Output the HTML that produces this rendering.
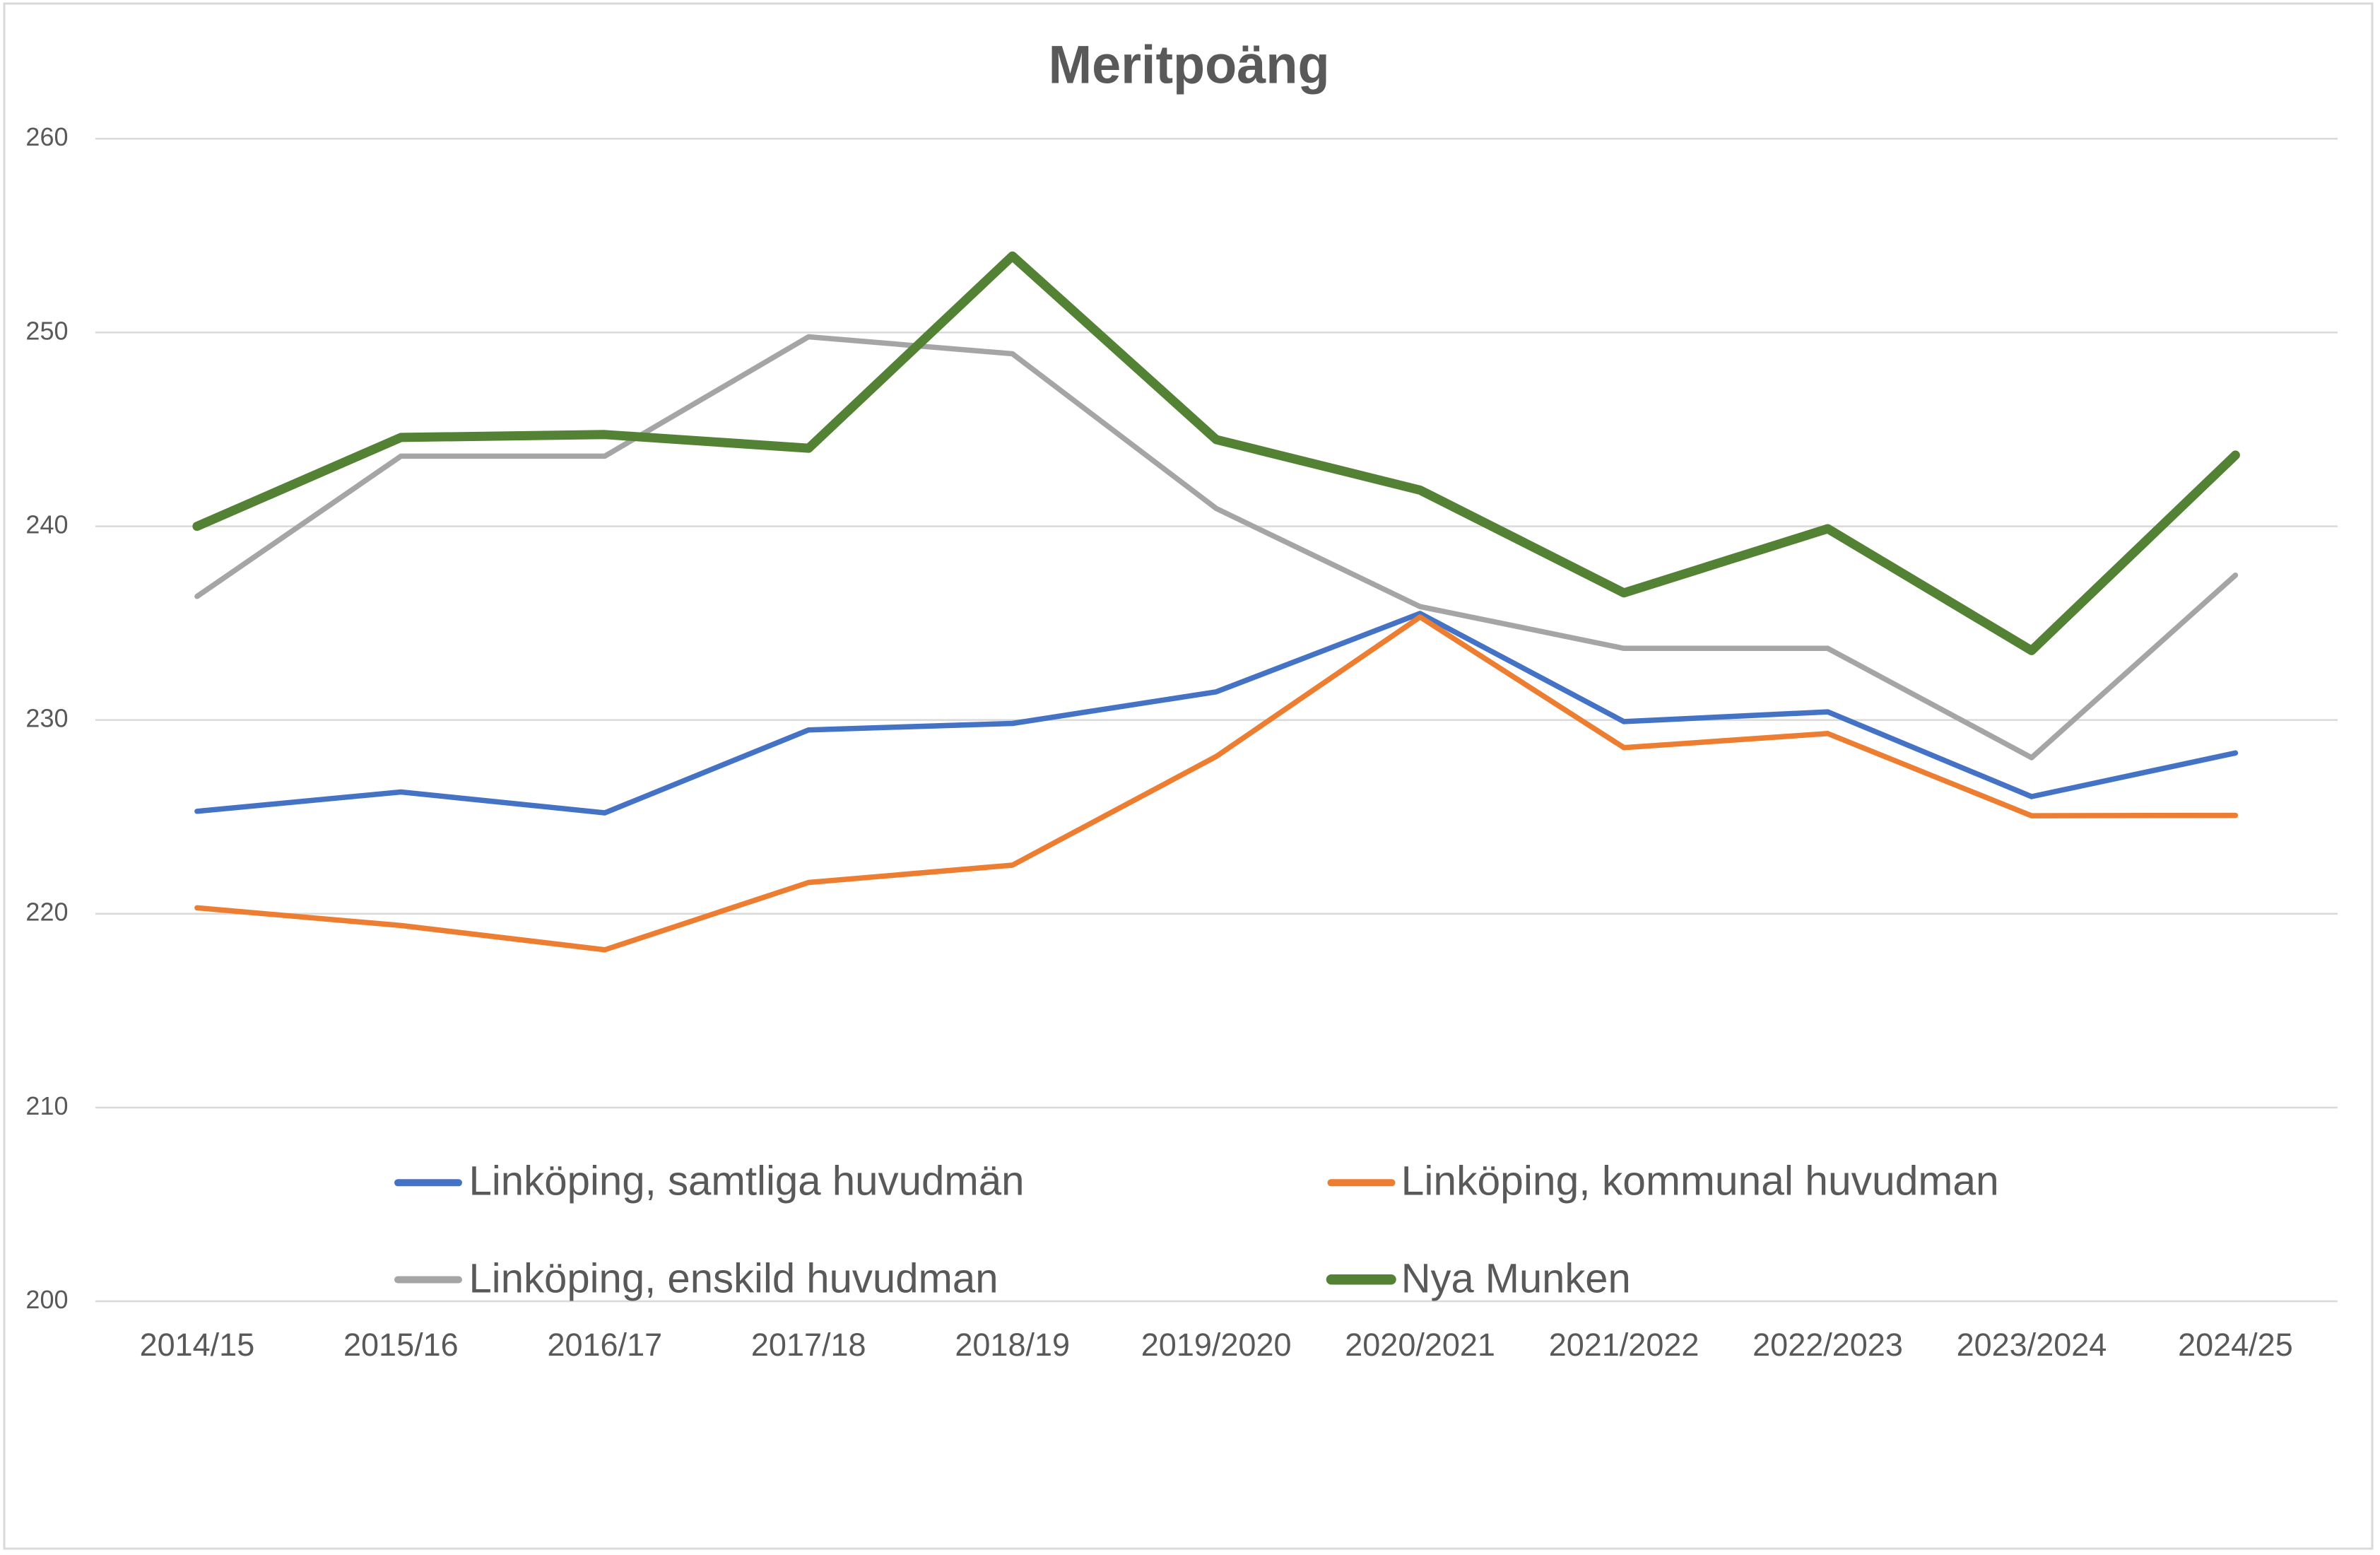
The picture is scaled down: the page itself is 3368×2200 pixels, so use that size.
<!DOCTYPE html>
<html>
<head>
<meta charset="utf-8">
<style>
  html, body { margin: 0; padding: 0; background: #ffffff; }
  svg { display: block; }
  text { font-family: "Liberation Sans", sans-serif; fill: #595959; }
</style>
</head>
<body>
<svg width="3368" height="2200" viewBox="0 0 3368 2200" xmlns="http://www.w3.org/2000/svg">
  <rect x="0" y="0" width="3368" height="2200" fill="#ffffff"/>
  <!-- outer chart border -->
  <rect x="6" y="5" width="3351" height="2186" fill="none" stroke="#d9d9d9" stroke-width="3"/>

  <!-- title -->
  <text x="1682.6" y="117.7" text-anchor="middle" font-size="76" font-weight="bold" textLength="398" lengthAdjust="spacingAndGlyphs">Meritpoäng</text>

  <!-- gridlines -->
  <g stroke="#d9d9d9" stroke-width="2.5">
    <line x1="135" y1="196.2" x2="3308" y2="196.2"/>
    <line x1="135" y1="470.4" x2="3308" y2="470.4"/>
    <line x1="135" y1="744.6" x2="3308" y2="744.6"/>
    <line x1="135" y1="1018.6" x2="3308" y2="1018.6"/>
    <line x1="135" y1="1292.7" x2="3308" y2="1292.7"/>
    <line x1="135" y1="1567" x2="3308" y2="1567"/>
    <line x1="135" y1="1841" x2="3308" y2="1841"/>
  </g>

  <!-- y-axis labels -->
  <g font-size="36" text-anchor="end">
    <text x="96.5" y="206.2">260</text>
    <text x="96.5" y="480.4">250</text>
    <text x="96.5" y="754.6">240</text>
    <text x="96.5" y="1028.6">230</text>
    <text x="96.5" y="1302.7">220</text>
    <text x="96.5" y="1577">210</text>
    <text x="96.5" y="1851">200</text>
  </g>

  <!-- x-axis labels -->
  <g font-size="45" text-anchor="middle">
    <text x="278.9" y="1918">2014/15</text>
    <text x="567.35" y="1918">2015/16</text>
    <text x="855.8" y="1918">2016/17</text>
    <text x="1144.25" y="1918">2017/18</text>
    <text x="1432.7" y="1918">2018/19</text>
    <text x="1721.15" y="1918">2019/2020</text>
    <text x="2009.6" y="1918">2020/2021</text>
    <text x="2298.05" y="1918">2021/2022</text>
    <text x="2586.5" y="1918">2022/2023</text>
    <text x="2874.95" y="1918">2023/2024</text>
    <text x="3163.4" y="1918">2024/25</text>
  </g>

  <!-- series -->
  <g fill="none" stroke-linecap="round" stroke-linejoin="round">
    <!-- Linköping, samtliga huvudmän (blue) -->
    <polyline stroke="#4472C4" stroke-width="7.5"
      points="278.9,1147.8 567.35,1120.5 855.8,1150 1144.25,1032.7 1432.7,1023.5 1721.15,978.8 2009.6,867.9 2298.05,1020.9 2586.5,1007.1 2874.95,1127 3163.4,1065.3"/>
    <!-- Linköping, kommunal huvudman (orange) -->
    <polyline stroke="#ED7D31" stroke-width="7.5"
      points="278.9,1284.4 567.35,1309.4 855.8,1343.75 1144.25,1248.5 1432.7,1224 1721.15,1070.2 2009.6,872.9 2298.05,1057.7 2586.5,1037.8 2874.95,1154.1 3163.4,1153.6"/>
    <!-- Linköping, enskild huvudman (gray) -->
    <polyline stroke="#A5A5A5" stroke-width="7.5"
      points="278.9,843.75 567.35,645.4 855.8,645.4 1144.25,476.5 1432.7,500.5 1721.15,719.4 2009.6,858.2 2298.05,917.3 2586.5,917.3 2874.95,1071.9 3163.4,813.8"/>
    <!-- Nya Munken (green) -->
    <polyline stroke="#548235" stroke-width="13"
      points="278.9,744.6 567.35,618.9 855.8,614.8 1144.25,634.2 1432.7,362.2 1721.15,621.9 2009.6,693.4 2298.05,838.8 2586.5,748 2874.95,920.4 3163.4,643.9"/>
  </g>

  <!-- legend -->
  <g stroke-linecap="round" fill="none">
    <line x1="563" y1="1673.3" x2="649" y2="1673.3" stroke="#4472C4" stroke-width="10"/>
    <line x1="1883.5" y1="1673.3" x2="1969.5" y2="1673.3" stroke="#ED7D31" stroke-width="10"/>
    <line x1="563" y1="1810.5" x2="649" y2="1810.5" stroke="#A5A5A5" stroke-width="10"/>
    <line x1="1884" y1="1810.2" x2="1968.5" y2="1810.2" stroke="#548235" stroke-width="14.5"/>
  </g>
  <g font-size="58">
    <text x="663.5" y="1690.7" textLength="786" lengthAdjust="spacingAndGlyphs">Linköping, samtliga huvudmän</text>
    <text x="1982.7" y="1690.7" textLength="846" lengthAdjust="spacingAndGlyphs">Linköping, kommunal huvudman</text>
    <text x="663.5" y="1828.3" textLength="749" lengthAdjust="spacingAndGlyphs">Linköping, enskild huvudman</text>
    <text x="1982.7" y="1828.3" textLength="325" lengthAdjust="spacingAndGlyphs">Nya Munken</text>
  </g>
</svg>
</body>
</html>
